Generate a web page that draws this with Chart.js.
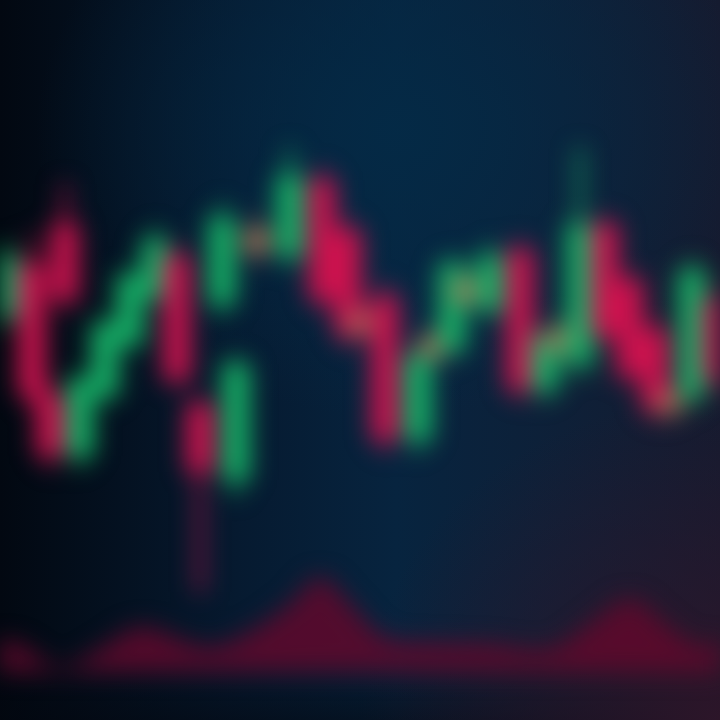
<!DOCTYPE html>
<html>
<head>
<meta charset="utf-8">
<script src="https://cdn.jsdelivr.net/npm/chart.js@4/dist/chart.umd.min.js"></script>
<style>
  html, body { margin: 0; padding: 0; width: 720px; height: 720px; overflow: hidden; }
  body {
    background:
      radial-gradient(ellipse 50% 40% at 55% 18%, rgba(4,42,70,0.95) 0%, rgba(4,42,70,0) 100%),
      radial-gradient(ellipse 50% 45% at 100% 100%, rgba(46,22,42,0.95) 0%, rgba(46,22,42,0) 100%),
      linear-gradient(180deg, rgba(0,0,0,0) 0%, rgba(0,0,0,0) 90%, rgba(3,6,14,0.55) 100%),
      linear-gradient(90deg, #020811 0%, #061a30 33%, #07243f 55%, #0e2038 78%, #151b30 100%);
  }
  #wrap { position: absolute; left: 0; top: 0; width: 720px; height: 720px; }
  canvas { filter: blur(12px); }
</style>
</head>
<body>
<div id="wrap"><canvas id="c" width="720" height="720"></canvas></div>
<script>
// candle times (session index, fractional)
const times  = [0.2, 1.28, 2.0, 2.6, 3.2, 4.2, 5.2, 6.2, 7.08, 8.0, 8.88, 9.44, 10.28, 11.6, 12.88, 13.92, 14.48, 15.4, 16.72, 17.28, 18.08, 18.72, 19.6, 20.8, 21.8, 22.4, 23.2, 24.2, 25.2, 26.2, 26.8, 27.68, 28.64];
const opens  = [201, 214, 181, 224, 166, 181, 194, 206, 216, 179, 204, 160, 217.5, 216, 235, 222.5, 201, 206, 170, 191, 192.5, 205, 202.5, 217.5, 182.5, 192.5, 189, 224, 210, 197.5, 181, 181, 205];
const closes = [216, 181, 166, 205, 185, 199, 211, 220, 185, 162, 225.5, 189, 222, 236, 205, 196, 197.5, 170, 191, 195.5, 214, 209.5, 216, 182.5, 196, 197.5, 224, 196, 186, 177.5, 177.5, 212.5, 185];
const highs  = [219, 221, 184, 234, 187, 201, 213, 223, 219, 181, 229, 191, 226, 243, 238, 225, 204, 209, 193, 198, 216, 212, 219, 220, 198, 200, 243, 226, 212, 200, 183, 215, 208];
const lows   = [198, 178, 163, 202, 163, 179, 192, 204, 183, 132, 201, 156, 214, 213, 202, 193, 195, 167, 167, 189, 190, 203, 200, 180, 180, 190, 186, 194, 184, 175, 175, 178, 182];

// volume profile
const volTimes = [0, 0.8, 2.4, 4, 5.6, 7.2, 8.4, 10, 11.6, 12.8, 14, 15.4, 17.2, 19.6, 22, 23.6, 25.2, 26.6, 28, 28.8];
const volumes  = [6.7, 5.6, 0.8, 4.6, 9.2, 6.7, 5, 8.3, 14, 19.6, 14, 7.1, 6, 5.6, 4.6, 9.8, 15, 9.8, 5, 6.7];

const GREEN = '#16b066', RED = '#cc124e', DOJI = '#b07458';
const colorFor = (i) => {
  const d = closes[i] - opens[i];
  if (Math.abs(d) < 6) return DOJI;
  return d > 0 ? GREEN : RED;
};
const candleColors = times.map((t, i) => colorFor(i));

const bodies = times.map((t, i) => ({ x: t, y: [opens[i], closes[i]] }));
const wicks  = times.map((t, i) => ({ x: t, y: [lows[i], highs[i]] }));
const vol    = volTimes.map((t, i) => ({ x: t, y: volumes[i] }));

new Chart(document.getElementById('c'), {
  type: 'bar',
  data: {
    datasets: [
      {
        type: 'line', data: vol, yAxisID: 'yv', order: 3,
        borderColor: 'rgba(100,10,46,0.7)', borderWidth: 2,
        backgroundColor: 'rgba(96,8,44,0.85)',
        fill: { value: 0 }, tension: 0.4, pointRadius: 0
      },
      {
        data: wicks, yAxisID: 'y', order: 2, grouped: false,
        backgroundColor: candleColors, barThickness: 5, borderSkipped: false
      },
      {
        data: bodies, yAxisID: 'y', order: 1, grouped: false,
        backgroundColor: candleColors, barThickness: 27, borderSkipped: false
      }
    ]
  },
  options: {
    responsive: false,
    devicePixelRatio: 1,
    animation: false,
    layout: { padding: 0 },
    plugins: { legend: { display: false }, tooltip: { enabled: false } },
    scales: {
      x: { type: 'linear', min: 0, max: 28.8, offset: false, display: false, grid: { display: false } },
      y: { min: 100, max: 280, display: false, grid: { display: false } },
      yv: { min: -10, max: 140, display: false, grid: { display: false } }
    }
  }
});
</script>
</body>
</html>
